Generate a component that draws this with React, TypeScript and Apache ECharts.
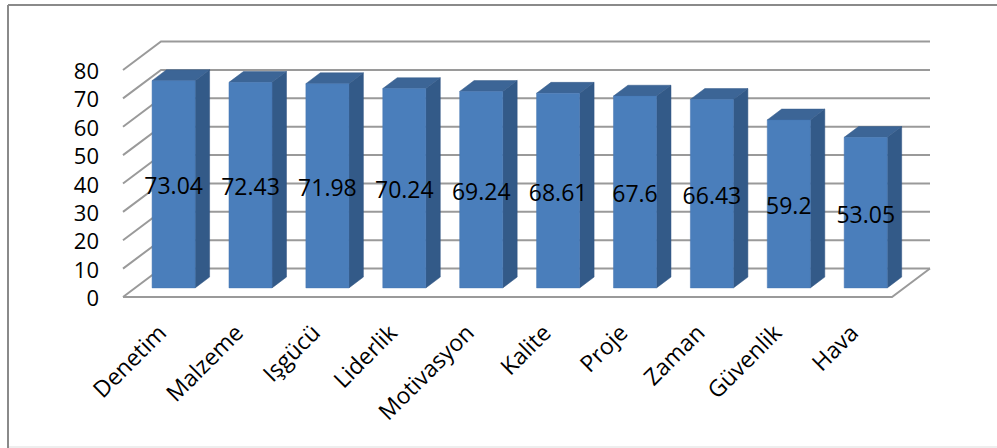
import { useEffect, useRef } from "react";
import * as echarts from "echarts";

const categories = ["Denetim", "Malzeme", "Işgücü", "Liderlik", "Motivasyon", "Kalite", "Proje", "Zaman", "Güvenlik", "Hava"];
const values = [73.04, 72.43, 71.98, 70.24, 69.24, 68.61, 67.6, 66.43, 59.2, 53.05];
const yTicks = [0, 10, 20, 30, 40, 50, 60, 70, 80];

const FONT = "'Open Sans', 'Noto Sans', sans-serif";
const DX = 38;
const DY = -28.5;
const D0 = 0.32;
const D1 = 0.7;
const BAR_W = 0.56;
const GRID_COLOR = "#9a9a9a";

export default function App() {
  const ref = useRef<HTMLDivElement>(null);

  useEffect(() => {
    if (!ref.current) return;
    const chart = echarts.init(ref.current, null, { renderer: "svg" });

    const gridRender = (params: any, api: any) => {
      const v = api.value(1);
      const cs = params.coordSys;
      const y = api.coord([0, v])[1];
      const x0 = cs.x;
      const x1 = cs.x + cs.width;
      const style = { stroke: GRID_COLOR, lineWidth: 2, fill: null };
      const children: any[] = [
        { type: "polyline", shape: { points: [[x0, y], [x0 + DX, y + DY], [x1 + DX, y + DY]] }, style },
      ];
      if (v === 0) {
        children.push({ type: "polyline", shape: { points: [[x0, y], [x1, y], [x1 + DX, y + DY]] }, style });
      }
      return { type: "group", children };
    };

    const barRender = (params: any, api: any) => {
      const i = api.value(0);
      const v = api.value(1);
      const base = api.coord([i, 0]);
      const top = api.coord([i, v]);
      const band = api.size([1, 0])[0];
      const w = band * BAR_W;
      const ox = D0 * DX;
      const oy = D0 * DY;
      const ddx = (D1 - D0) * DX;
      const ddy = (D1 - D0) * DY;
      const xl = base[0] - w / 2 + ox;
      const xr = xl + w;
      const yb = base[1] + oy;
      const yt = top[1] + oy;
      return {
        type: "group",
        children: [
          {
            type: "polygon",
            shape: { points: [[xr, yb], [xr + ddx, yb + ddy], [xr + ddx, yt + ddy], [xr, yt]] },
            style: { fill: "#335a88", stroke: "#2f5380", lineWidth: 0.5 },
          },
          {
            type: "polygon",
            shape: { points: [[xl, yt], [xr, yt], [xr + ddx, yt + ddy], [xl + ddx, yt + ddy]] },
            style: { fill: "#3c6596", stroke: "#365c8a", lineWidth: 0.5 },
          },
          {
            type: "rect",
            shape: { x: xl, y: yt, width: w, height: yb - yt },
            style: { fill: "#4a7ebb", stroke: "#4677b2", lineWidth: 0.5 },
          },
          {
            type: "text",
            x: (xl + xr) / 2,
            y: (yb + yt) / 2 + 1,
            style: {
              text: String(values[params.dataIndex]),
              align: "center",
              verticalAlign: "middle",
              fontSize: 23,
              fontFamily: FONT,
              fill: "#000",
            },
            z2: 10,
          },
        ],
      };
    };

    chart.setOption({
      animation: false,
      backgroundColor: "#fff",
      grid: { left: 123, top: 70, width: 769, height: 227 },
      xAxis: {
        type: "category",
        data: categories,
        boundaryGap: true,
        axisLine: { show: false },
        axisTick: { show: false },
        axisLabel: {
          interval: 0,
          rotate: 45,
          margin: 31,
          fontSize: 23,
          fontFamily: FONT,
          color: "#000",
        },
      },
      yAxis: {
        type: "value",
        min: 0,
        max: 80,
        interval: 10,
        axisLine: { show: false },
        axisTick: { show: false },
        splitLine: { show: false },
        axisLabel: { margin: 24, fontSize: 22, lineHeight: 22, fontFamily: FONT, color: "#000" },
      },
      graphic: [
        { type: "line", shape: { x1: 8, y1: 5, x2: 997, y2: 5 }, style: { stroke: "#8a8a8a", lineWidth: 2 } },
        { type: "line", shape: { x1: 8, y1: 5, x2: 8, y2: 448 }, style: { stroke: "#8a8a8a", lineWidth: 2 } },
        { type: "line", shape: { x1: 9, y1: 447, x2: 997, y2: 447 }, style: { stroke: "#dddddd", lineWidth: 1 } },
      ],
      series: [
        {
          type: "custom",
          clip: false,
          silent: true,
          z: 1,
          data: yTicks.map((t) => [0, t]),
          encode: { x: 0, y: 1 },
          renderItem: gridRender,
        },
        {
          type: "custom",
          clip: false,
          z: 2,
          data: values.map((v, i) => [i, v]),
          encode: { x: 0, y: 1 },
          renderItem: barRender,
        },
      ],
    });

    return () => chart.dispose();
  }, []);

  return (
    <div
      ref={ref}
      style={{ position: "fixed", left: 0, top: 0, width: 997, height: 448 }}
    />
  );
}
